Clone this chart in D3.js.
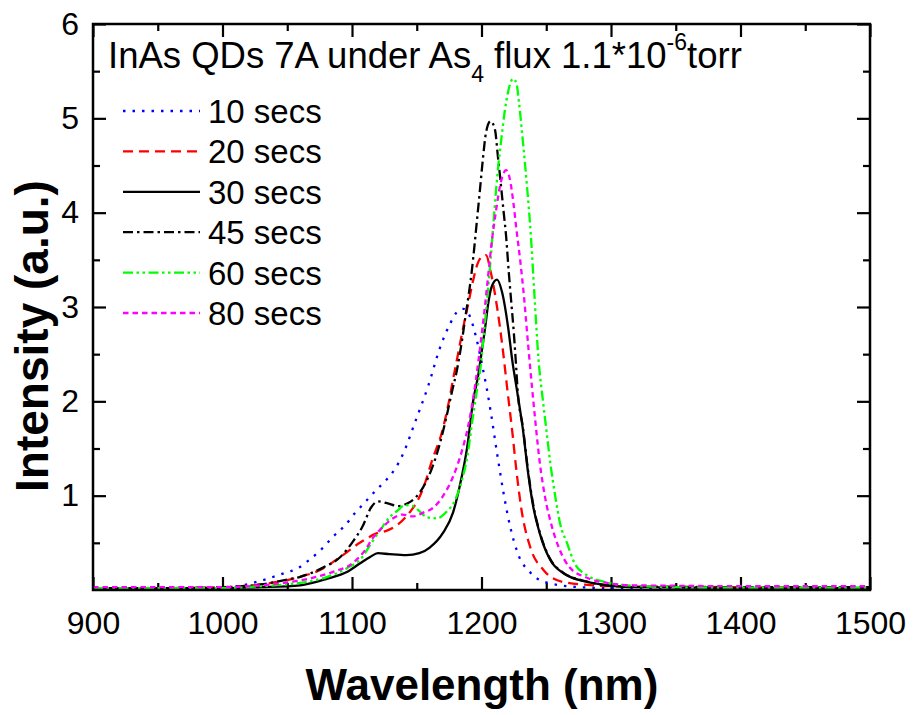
<!DOCTYPE html>
<html>
<head>
<meta charset="utf-8">
<script src="https://cdn.jsdelivr.net/npm/d3@7"></script>
<style>
  html, body { margin: 0; padding: 0; background: #fff; }
  svg { display: block; }
  text { font-family: "Liberation Sans", Arial, sans-serif; fill: #000; }
</style>
</head>
<body>
<svg id="chart" width="915" height="715"></svg>
<script>
// ---------------- data ----------------
const xTicks = [900, 1000, 1100, 1200, 1300, 1400, 1500];
const xMinorTicks = [950, 1050, 1150, 1250, 1350, 1450];
const yTicks = [1, 2, 3, 4, 5, 6];
const yMinorTicks = [0.5, 1.5, 2.5, 3.5, 4.5, 5.5];
const seriesNames = ["10 secs", "20 secs", "30 secs", "45 secs", "60 secs", "80 secs"];

const s10 = [[900,0.02],[950,0.02],[1000,0.03],[1011,0.04],[1030,0.10],[1048,0.18],[1058,0.23],[1068,0.33],[1077,0.44],[1085,0.56],[1095,0.69],[1102,0.81],[1110,0.93],[1118,1.05],[1126,1.16],[1133,1.28],[1139,1.43],[1149,1.79],[1159,2.17],[1168,2.57],[1176,2.83],[1182,2.96],[1186,2.98],[1190,2.93],[1196,2.67],[1201,2.35],[1204,2.14],[1207,1.90],[1212,1.45],[1217,1.03],[1222,0.68],[1228,0.39],[1238,0.18],[1250,0.08],[1276,0.03],[1300,0.02],[1400,0.02],[1500,0.02]];
const s20 = [[900,0.02],[950,0.02],[1000,0.03],[1030,0.06],[1060,0.14],[1075,0.21],[1091,0.35],[1106,0.50],[1119,0.60],[1127,0.63],[1136,0.70],[1146,0.85],[1150,0.93],[1155,1.08],[1162,1.38],[1170,1.70],[1174,1.94],[1178,2.23],[1182,2.51],[1186,2.79],[1190,3.05],[1193,3.25],[1197,3.46],[1200,3.53],[1203.5,3.55],[1207,3.38],[1212,3.00],[1216,2.60],[1220,2.12],[1224,1.65],[1227,1.26],[1231,0.84],[1237.5,0.46],[1248,0.21],[1263,0.085],[1286,0.05],[1300,0.04],[1400,0.03],[1500,0.02]];
const s30 = [[900,0.02],[950,0.02],[1000,0.02],[1030,0.03],[1060,0.05],[1081,0.12],[1096,0.19],[1106,0.28],[1114,0.35],[1120,0.39],[1129,0.38],[1142,0.37],[1152,0.39],[1160,0.45],[1170,0.60],[1178,0.82],[1183,1.09],[1189,1.52],[1193.5,2.00],[1197.5,2.28],[1200.5,2.56],[1203,2.80],[1205,3.02],[1208,3.22],[1212,3.29],[1216,3.15],[1220.5,2.79],[1224,2.41],[1227,2.15],[1232,1.70],[1236,1.24],[1240,0.88],[1245,0.60],[1253,0.32],[1263,0.18],[1281.5,0.085],[1297,0.05],[1320,0.03],[1400,0.02],[1500,0.02]];
const s45 = [[900,0.02],[950,0.02],[1000,0.03],[1030,0.06],[1050,0.11],[1060,0.14],[1078,0.24],[1091,0.35],[1100,0.50],[1108,0.67],[1115,0.88],[1120,0.94],[1127,0.92],[1135.5,0.89],[1143,0.92],[1149,0.98],[1155,1.09],[1162,1.30],[1168,1.56],[1173,1.84],[1177,2.09],[1181,2.33],[1185,2.65],[1187.5,2.89],[1190,3.12],[1192.5,3.38],[1194.5,3.64],[1196.5,3.92],[1199,4.27],[1201,4.56],[1203.5,4.85],[1207,4.97],[1210.4,4.88],[1212.7,4.59],[1214.5,4.36],[1217,4.02],[1219,3.75],[1221,3.38],[1223,3.05],[1225,2.72],[1226.5,2.42],[1228,2.10],[1232,1.72],[1236,1.26],[1240,0.90],[1245,0.61],[1253,0.33],[1263,0.185],[1281.5,0.09],[1297,0.05],[1320,0.035],[1400,0.03],[1500,0.03]];
const s60 = [[900,0.02],[950,0.02],[1000,0.02],[1030,0.04],[1050,0.06],[1065,0.085],[1081,0.14],[1096,0.23],[1108,0.35],[1115,0.50],[1122,0.64],[1129,0.77],[1135,0.84],[1141,0.90],[1147,0.89],[1152.5,0.83],[1158,0.77],[1165.6,0.76],[1173,0.83],[1179.5,0.95],[1185,1.17],[1189,1.41],[1193,1.80],[1196.5,2.12],[1199,2.33],[1201,2.60],[1203,2.88],[1205,3.18],[1207,3.50],[1209,3.85],[1211,4.20],[1213,4.50],[1215.5,4.80],[1218,5.08],[1220.5,5.28],[1224.5,5.42],[1227,5.37],[1229,5.16],[1232,4.75],[1235,4.30],[1238,3.78],[1241,3.10],[1244,2.45],[1247.5,2.00],[1250.5,1.65],[1253,1.36],[1257,0.99],[1260.6,0.71],[1266,0.50],[1272,0.28],[1281,0.16],[1294,0.09],[1312,0.05],[1350,0.03],[1400,0.025],[1500,0.025]];
const s80 = [[900,0.03],[950,0.03],[1000,0.03],[1030,0.05],[1050,0.08],[1070,0.13],[1085,0.19],[1100,0.28],[1110,0.42],[1116,0.55],[1124,0.67],[1131.7,0.76],[1139,0.80],[1147,0.78],[1155,0.82],[1162.5,0.87],[1170,0.99],[1178,1.20],[1185,1.48],[1189.6,1.73],[1192.7,1.96],[1195.7,2.23],[1198,2.47],[1200.5,2.75],[1203,3.05],[1205.5,3.38],[1208,3.70],[1211,4.00],[1214,4.26],[1216.5,4.40],[1219,4.45],[1222,4.35],[1224.5,4.12],[1227,3.82],[1230,3.48],[1233,3.08],[1236,2.60],[1239,2.15],[1241.5,1.80],[1245,1.35],[1249,0.99],[1254.4,0.67],[1260.6,0.42],[1268,0.24],[1281.5,0.13],[1299,0.07],[1317,0.05],[1350,0.045],[1400,0.04],[1450,0.04],[1500,0.04]];

const seriesData = [s10, s20, s30, s45, s60, s80];
const seriesColors = ["#0000ff", "#ff0000", "#000000", "#000000", "#00ff00", "#ff00ff"];
const seriesDash = ["2.5,7", "10,6", null, "10,4,2.5,4", "10,3.5,2.5,3.5,2.5,3.5", "5.5,4"];

// ---------------- layout ----------------
const svg = d3.select("#chart");
const L = 93, R = 870, T = 24, B = 590;

const x = d3.scaleLinear().domain([900, 1500]).range([L, R]);
const y = d3.scaleLinear().domain([0, 6]).range([B, T]);

const tickFont = 32;
const majorLen = 13, minorLen = 7;

function styleAxis(g) {
  g.select(".domain").remove();
  g.selectAll(".tick line").attr("stroke", "#000").attr("stroke-width", 2.2);
  g.selectAll(".tick text").style("font-size", tickFont + "px").attr("fill", "#000");
}

// bottom
svg.append("g").attr("transform", `translate(0,${B})`)
  .call(d3.axisBottom(x).tickValues(xTicks).tickSize(-majorLen).tickPadding(21).tickFormat(d3.format("d")))
  .call(styleAxis);
svg.append("g").attr("transform", `translate(0,${B})`)
  .call(d3.axisBottom(x).tickValues(xMinorTicks).tickSize(-minorLen).tickFormat(""))
  .call(styleAxis);
// top
svg.append("g").attr("transform", `translate(0,${T})`)
  .call(d3.axisTop(x).tickValues(xTicks).tickSize(-majorLen).tickFormat(""))
  .call(styleAxis);
svg.append("g").attr("transform", `translate(0,${T})`)
  .call(d3.axisTop(x).tickValues(xMinorTicks).tickSize(-minorLen).tickFormat(""))
  .call(styleAxis);
// left
svg.append("g").attr("transform", `translate(${L},0)`)
  .call(d3.axisLeft(y).tickValues(yTicks).tickSize(-majorLen).tickPadding(14).tickFormat(d3.format("d")))
  .call(styleAxis);
svg.append("g").attr("transform", `translate(${L},0)`)
  .call(d3.axisLeft(y).tickValues(yMinorTicks).tickSize(-minorLen).tickFormat(""))
  .call(styleAxis);
// right
svg.append("g").attr("transform", `translate(${R},0)`)
  .call(d3.axisRight(y).tickValues(yTicks).tickSize(-majorLen).tickFormat(""))
  .call(styleAxis);
svg.append("g").attr("transform", `translate(${R},0)`)
  .call(d3.axisRight(y).tickValues(yMinorTicks).tickSize(-minorLen).tickFormat(""))
  .call(styleAxis);

// clip
svg.append("clipPath").attr("id", "clip")
  .append("rect").attr("x", L).attr("y", T).attr("width", R - L).attr("height", B - T);

// lines
const line = d3.line()
  .x(d => x(d[0]))
  .y(d => y(d[1]))
  .curve(d3.curveMonotoneX);

const gLines = svg.append("g").attr("clip-path", "url(#clip)");
seriesData.forEach((data, i) => {
  gLines.append("path")
    .datum(data)
    .attr("d", line)
    .attr("fill", "none")
    .attr("stroke", seriesColors[i])
    .attr("stroke-width", 2.3)
    .attr("stroke-dasharray", seriesDash[i])
    .attr("stroke-linejoin", "round");
});

// frame
svg.append("rect")
  .attr("x", L).attr("y", T).attr("width", R - L).attr("height", B - T)
  .attr("fill", "none").attr("stroke", "#000").attr("stroke-width", 2.5);

// title
const title = svg.append("text").attr("x", 108).attr("y", 68).style("font-size", "36.5px");
title.append("tspan").text("InAs QDs 7A under As");
title.append("tspan").attr("dy", 14).style("font-size", "23px").text("4");
title.append("tspan").attr("dy", -14).text(" flux 1.1*10");
title.append("tspan").attr("dy", -18).style("font-size", "23px").text("-6");
title.append("tspan").attr("dy", 18).text("torr");

// legend
const legendY0 = 111, legendStep = 40.4;
const legend = svg.append("g");
seriesNames.forEach((name, i) => {
  const yy = legendY0 + i * legendStep;
  legend.append("line")
    .attr("x1", 123).attr("x2", 200).attr("y1", yy).attr("y2", yy)
    .attr("stroke", seriesColors[i]).attr("stroke-width", 2.3)
    .attr("stroke-dasharray", seriesDash[i]);
  legend.append("text")
    .attr("x", 208).attr("y", yy + 12)
    .style("font-size", "33px")
    .text(name);
});

// axis labels
svg.append("text")
  .attr("x", 482).attr("y", 700)
  .attr("text-anchor", "middle")
  .style("font-size", "44px").style("font-weight", "bold")
  .text("Wavelength (nm)");

svg.append("text")
  .attr("transform", "translate(48,336) rotate(-90)")
  .attr("text-anchor", "middle")
  .style("font-size", "46px").style("font-weight", "bold")
  .text("Intensity (a.u.)");
</script>
</body>
</html>
